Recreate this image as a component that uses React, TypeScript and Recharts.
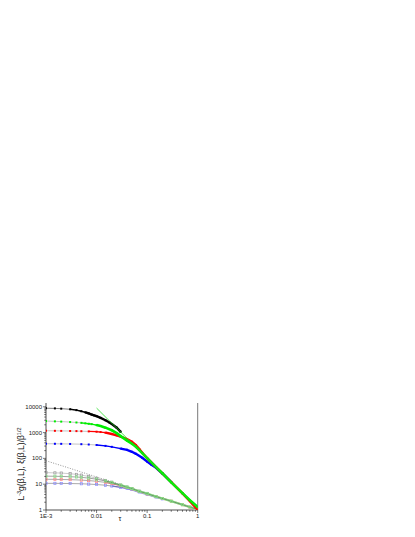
import React from 'react';
import { ComposedChart, Scatter, XAxis, YAxis, ReferenceLine } from 'recharts';

// ---------- axis ticks ----------
const xMajorTicks = [0.001, 0.01, 0.1, 1];
const xTicks = [
  0.001, 0.002, 0.003, 0.004, 0.005, 0.006, 0.007, 0.008, 0.009,
  0.01, 0.02, 0.03, 0.04, 0.05, 0.06, 0.07, 0.08, 0.09,
  0.1, 0.2, 0.3, 0.4, 0.5, 0.6, 0.7, 0.8, 0.9, 1,
];
const xTickLabels = ['1E-3', '0.01', '0.1', '1'];
const yMajorTicks = [1, 10, 100, 1000, 10000];
const yTicks = [
  1, 2, 3, 4, 5, 6, 7, 8, 9,
  10, 20, 30, 40, 50, 60, 70, 80, 90,
  100, 200, 300, 400, 500, 600, 700, 800, 900,
  1000, 2000, 3000, 4000, 5000, 6000, 7000, 8000, 9000, 10000,
];
const yTickLabels = ['1', '10', '100', '1000', '10000'];

// ---------- upper group: L^-3 g(beta,L) ----------
const blackT = [0.001, 0.0015, 0.002, 0.003, 0.004, 0.005, 0.006, 0.007, 0.008, 0.009, 0.01, 0.012, 0.015, 0.018, 0.02, 0.025, 0.03];
const blackV = [8800, 8650, 8450, 8000, 7400, 6700, 6100, 5500, 5000, 4600, 4300, 3700, 3000, 2450, 2150, 1550, 1070];

const greenT = [0.001, 0.0015, 0.002, 0.003, 0.004, 0.005, 0.006, 0.007, 0.008, 0.01, 0.012, 0.015, 0.02, 0.025, 0.03, 0.04, 0.05, 0.06, 0.08, 0.1, 0.15, 0.2, 0.3, 0.5, 0.7, 1];
const greenV = [2800, 2720, 2660, 2560, 2460, 2380, 2280, 2200, 2120, 1950, 1800, 1550, 1230, 950, 730, 490, 370, 280, 160, 103, 46, 26.5, 11.8, 4.5, 2.4, 1.3];

const redT = [0.001, 0.0015, 0.002, 0.003, 0.004, 0.005, 0.007, 0.01, 0.012, 0.015, 0.02, 0.025, 0.03, 0.04, 0.05, 0.06, 0.07, 0.08, 0.1, 0.15, 0.2, 0.3, 0.5, 0.7, 1];
const redV = [1180, 1170, 1160, 1150, 1140, 1130, 1110, 1080, 1050, 990, 880, 780, 690, 560, 440, 330, 230, 165, 102, 46, 26.5, 12, 4.4, 2.2, 1.02];

const blueT = [0.001, 0.0015, 0.002, 0.003, 0.005, 0.007, 0.01, 0.015, 0.02, 0.03, 0.04, 0.05, 0.06, 0.08, 0.1, 0.12, 0.15, 0.2, 0.3];
const blueV = [370, 368, 366, 362, 355, 345, 330, 305, 280, 240, 215, 180, 150, 105, 75, 58, 43, 26, 12];

const gAsymT = [0.01, 0.02, 0.05, 0.1, 0.2, 0.5, 1];
const gAsymV = [8900, 2300, 390, 102, 26.5, 4.5, 1.2];

// ---------- lower group: xi(beta,L)/beta^1/2 ----------
const xiAsymT = [0.001, 0.003, 0.01, 0.03, 0.1, 0.3, 1];
const xiAsymV = [81, 41, 19, 9.7, 4.5, 2.24, 1.05];

const xiGreyT = [0.001, 0.0015, 0.002, 0.003, 0.004, 0.005, 0.007, 0.01, 0.015, 0.02, 0.03, 0.04, 0.05, 0.07, 0.1];
const xiGreyV = [28, 27.5, 27, 25.5, 24, 22.5, 20, 17, 14, 12, 9.3, 7.8, 6.8, 5.4, 4.4];

const xiGreenT = [0.001, 0.0015, 0.002, 0.003, 0.004, 0.005, 0.007, 0.01, 0.015, 0.02, 0.03, 0.04, 0.05, 0.07, 0.1, 0.15, 0.2, 0.3, 0.5, 0.7, 1];
const xiGreenV = [20.5, 20.3, 20, 19.5, 19, 18.4, 17.2, 15.6, 13.3, 11.6, 9.2, 7.7, 6.7, 5.3, 4.3, 3.3, 2.8, 2.2, 1.6, 1.3, 1.05];

const xiRedT = [0.001, 0.0015, 0.002, 0.003, 0.005, 0.007, 0.01, 0.015, 0.02, 0.03, 0.04, 0.05, 0.07, 0.1, 0.15, 0.2, 0.3, 0.5, 0.7, 1];
const xiRedV = [15.5, 15.4, 15.2, 15, 14.4, 13.8, 13, 11.7, 10.6, 8.8, 7.5, 6.6, 5.2, 4.2, 3.3, 2.8, 2.2, 1.6, 1.3, 1.04];

const xiBlueT = [0.001, 0.0015, 0.002, 0.003, 0.005, 0.007, 0.01, 0.015, 0.02, 0.03, 0.04, 0.05, 0.07, 0.1, 0.15, 0.2];
const xiBlueV = [10.8, 10.8, 10.7, 10.6, 10.4, 10.1, 9.7, 9.1, 8.5, 7.6, 6.8, 6.2, 5.0, 4.1, 3.2, 2.7];

const pts = (t: number[], v: number[]) => t.map((x, i) => ({ t: x, v: v[i] }));
const range = (t: number[], v: number[], a: number, b = Infinity) =>
  pts(t, v).filter((p) => p.t >= a && p.t <= b);

const FONT = '"Liberation Sans", Arial, sans-serif';

const NoShape = () => <g />;
const filledSq = (color: string, s: number) => (p: any) => (
  <rect x={p.cx - s / 2} y={p.cy - s / 2} width={s} height={s} fill={color} />
);
const openSq = (color: string, s: number) => (p: any) => (
  <rect x={p.cx - s / 2} y={p.cy - s / 2} width={s} height={s} fill="none" stroke={color} strokeWidth={0.7} />
);

const XTick = (props: any) => {
  const { x, y, payload } = props;
  const idx = xMajorTicks.indexOf(payload.value);
  const major = idx >= 0;
  return (
    <g>
      <line x1={x} x2={x} y1={y} y2={y + (major ? 3 : 1.8)} stroke="#222" strokeWidth={0.6} />
      {major && (
        <text x={x} y={y + 7.5} textAnchor="middle" fontSize={6} fontFamily={FONT} fill="#222">
          {xTickLabels[idx]}
        </text>
      )}
    </g>
  );
};

const YTick = (props: any) => {
  const { x, y, payload } = props;
  const idx = yMajorTicks.indexOf(payload.value);
  const major = idx >= 0;
  return (
    <g>
      <line x1={x - (major ? 3 : 1.8)} x2={x} y1={y} y2={y} stroke="#222" strokeWidth={0.6} />
      {major && (
        <text x={x - 4} y={y + 2} textAnchor="end" fontSize={6} fontFamily={FONT} fill="#222">
          {yTickLabels[idx]}
        </text>
      )}
    </g>
  );
};

const YLabel = () => (
  <text
    x={16}
    y={456}
    transform="rotate(-90 16 456)"
    textAnchor="middle"
    fontSize={8.5}
    fontFamily={FONT}
    fill="#111"
  >
    L<tspan dy={-3} fontSize={5.5}>-3</tspan>
    <tspan dy={3}>g(β,L), ξ(β,L)/β</tspan>
    <tspan dy={-3} fontSize={5.5}>1/2</tspan>
  </text>
);

const XLabel = () => (
  <text x={112} y={513} textAnchor="middle" fontSize={7} fontFamily={FONT} fill="#111">
    τ
  </text>
);

const seg = (data: any[], color: string, w: number, key: string) => (
  <Scatter key={key} data={data} line={{ stroke: color, strokeWidth: w }} shape={NoShape} isAnimationActive={false} />
);

export default function App() {
  return (
    <ComposedChart
      width={400}
      height={520}
      margin={{ top: 395, right: 210.3, bottom: 0, left: 8 }}
    >
      <XAxis
        type="number"
        dataKey="t"
        scale="log"
        domain={[0.001, 1]}
        allowDataOverflow
        ticks={xTicks}
        interval={0}
        tickSize={0}
        tickMargin={0}
        tickLine={false}
        tick={<XTick />}
        height={18}
        stroke="#222"
        strokeWidth={0.8}
        label={{ content: () => <XLabel /> }}
      />
      <YAxis
        type="number"
        dataKey="v"
        scale="log"
        domain={[1, 14000]}
        allowDataOverflow
        ticks={yTicks}
        interval={0}
        tickSize={0}
        tickMargin={0}
        tickLine={false}
        tick={<YTick />}
        width={30}
        stroke="#222"
        strokeWidth={0.8}
        label={{ content: () => <YLabel /> }}
      />
      <ReferenceLine x={1} stroke="#555" strokeWidth={0.8} ifOverflow="extendDomain" />

      {/* lower group */}
      <Scatter data={pts(xiAsymT, xiAsymV)} line={{ stroke: '#777', strokeWidth: 0.8, strokeDasharray: '1 1.5' }} shape={NoShape} isAnimationActive={false} />
      {seg(range(xiBlueT, xiBlueV, 0.02, 0.04), '#9090ff', 1.3, 'b1')}
      {seg(range(xiBlueT, xiBlueV, 0.04), '#9090ff', 2, 'b2')}
      <Scatter data={pts(xiBlueT, xiBlueV)} line={{ stroke: '#555', strokeWidth: 0.5 }} shape={openSq('#8888ff', 2.2)} isAnimationActive={false} />
      {seg(range(xiRedT, xiRedV, 0.015, 0.03), '#ff9090', 1.3, 'r1')}
      {seg(range(xiRedT, xiRedV, 0.03), '#ff9090', 2, 'r2')}
      <Scatter data={pts(xiRedT, xiRedV)} line={{ stroke: '#555', strokeWidth: 0.5 }} shape={openSq('#ff8080', 2.2)} isAnimationActive={false} />
      <Scatter data={pts(xiGreyT, xiGreyV)} line={{ stroke: '#999', strokeWidth: 0.5 }} shape={openSq('#999', 2.2)} isAnimationActive={false} />
      {seg(range(xiGreenT, xiGreenV, 0.015, 0.03), '#8ee88e', 1.3, 'g1')}
      {seg(range(xiGreenT, xiGreenV, 0.03), '#8ee88e', 2.2, 'g2')}
      <Scatter data={pts(xiGreenT, xiGreenV)} line={{ stroke: '#444', strokeWidth: 0.5 }} shape={openSq('#80e080', 2.2)} isAnimationActive={false} />

      {/* upper group */}
      <Scatter data={pts(blueT, blueV)} line={{ stroke: '#aaa', strokeWidth: 0.7 }} shape={filledSq('#0000ff', 2)} isAnimationActive={false} />
      {seg(range(blueT, blueV, 0.01, 0.03), '#0000ff', 1.3, 'B1')}
      {seg(range(blueT, blueV, 0.03), '#0000ff', 2.4, 'B2')}
      <Scatter data={pts(redT, redV)} line={{ stroke: '#aaa', strokeWidth: 0.7 }} shape={filledSq('#ff0000', 2)} isAnimationActive={false} />
      {seg(range(redT, redV, 0.007, 0.015), '#ff0000', 1.3, 'R1')}
      {seg(range(redT, redV, 0.015), '#ff0000', 2.4, 'R2')}
      <Scatter data={pts(blackT, blackV)} line={{ stroke: '#444', strokeWidth: 0.7 }} shape={filledSq('#000', 2)} isAnimationActive={false} />
      {seg(range(blackT, blackV, 0.003, 0.006), '#000', 1.4, 'K1')}
      {seg(range(blackT, blackV, 0.006), '#000', 2.4, 'K2')}
      <Scatter data={pts(greenT, greenV)} line={{ stroke: '#aaa', strokeWidth: 0.7 }} shape={filledSq('#00ee00', 2)} isAnimationActive={false} />
      {seg(range(greenT, greenV, 0.005, 0.01), '#00ee00', 1.4, 'G1')}
      {seg(range(greenT, greenV, 0.01), '#00ee00', 2.6, 'G2')}
      <Scatter data={pts(gAsymT, gAsymV)} line={{ stroke: '#22dd22', strokeWidth: 0.8 }} shape={NoShape} isAnimationActive={false} />
    </ComposedChart>
  );
}
